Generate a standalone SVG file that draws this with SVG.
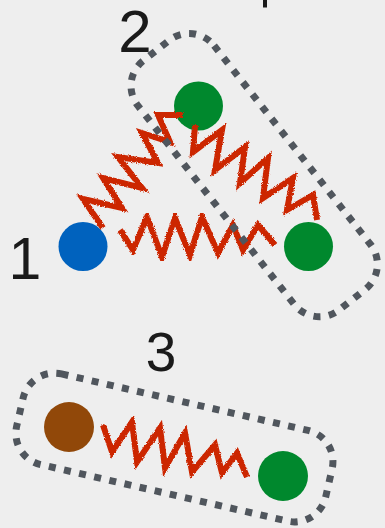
<svg xmlns="http://www.w3.org/2000/svg" width="385" height="528" viewBox="0 0 385 528">
  <defs>
    <filter id="rough" x="-10%" y="-10%" width="120%" height="120%">
      <feTurbulence type="fractalNoise" baseFrequency="0.9" numOctaves="2" seed="3" result="n"/>
      <feDisplacementMap in="SourceGraphic" in2="n" scale="3" xChannelSelector="R" yChannelSelector="G"/>
    </filter>
    <style>
      .bg { fill: #eeeeee; }
      .spring { fill: none; stroke: #cc2600; stroke-width: 6; stroke-linejoin: miter; stroke-linecap: butt; filter: url(#rough); }
      .box { fill: none; stroke: #50565d; stroke-width: 7; stroke-dasharray: 7 8.5; }
      .label { font-family: "Liberation Sans", Arial, sans-serif; fill: #1a1a1a; text-anchor: middle; }
      .green { fill: #00882d; }
      .blue { fill: #0062be; }
      .brown { fill: #914809; }
    </style>
  </defs>
  <rect class="bg" x="0" y="0" width="385" height="528"/>
  <rect x="263" y="0" width="4" height="7.5" fill="#1a1a1a"/>

  <g id="node-1">
    <circle class="blue" cx="83" cy="246.5" r="24.5"/>
    <text class="label" x="25" y="279" font-size="59">1</text>
  </g>
  <g id="node-2a">
    <circle class="green" cx="198.5" cy="106" r="24.5"/>
  </g>
  <g id="node-2b">
    <circle class="green" cx="308.5" cy="246.5" r="24.5"/>
  </g>
  <g id="node-3a">
    <circle class="brown" cx="69" cy="427" r="25"/>
  </g>
  <g id="node-3b">
    <circle class="green" cx="283" cy="476" r="25"/>
  </g>

  <g id="connectors">
    <polyline class="spring" points="120,230 133,250 147,217 162,257 175,218 190,255 202,217 218,253 233,225 243,250 258,225 275,245"/>
    <polyline class="spring" points="103,228 83,199 122,208 103,178 142,188 118,157 158,163 142,133 170,142 158,115 183,115"/>
    <polyline class="spring" points="195,125 193,152 222,130 215,170 245,147 240,183 268,158 263,198 293,178 287,210 313,195 317,220"/>
    <polyline class="spring" points="103,425 112,452 132,422 137,462 160,428 165,468 185,433 192,472 215,445 222,473 237,453 247,477"/>
  </g>

  <g id="group-2">
    <rect class="box" x="-158.5" y="-48.5" width="317" height="97" rx="32" transform="translate(254.2,175.1) rotate(51.8)"/>
    <text class="label" x="135" y="52" font-size="60">2</text>
  </g>
  <g id="group-3">
    <rect class="box" x="-158.5" y="-46.5" width="317" height="93" rx="32" transform="translate(174.4,447.5) rotate(12.9)"/>
    <text class="label" x="161" y="371" font-size="55">3</text>
  </g>
</svg>
